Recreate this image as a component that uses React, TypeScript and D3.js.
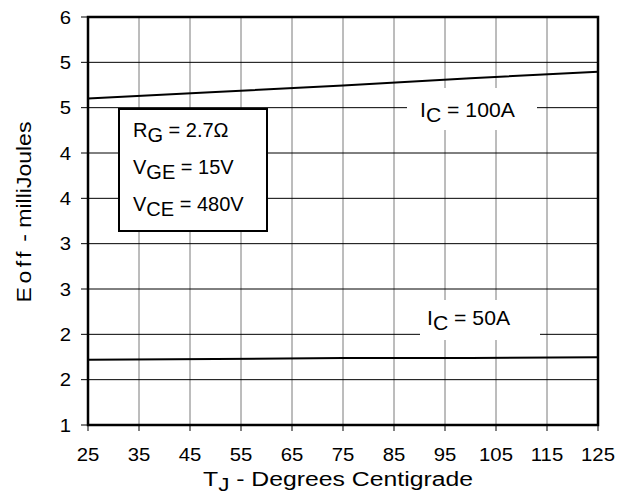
import * as d3 from 'd3';

const xTicks = [25, 35, 45, 55, 65, 75, 85, 95, 105, 115, 125];
const yTickLabels = ['1', '2', '2', '3', '3', '4', '4', '5', '5', '6'];
const yMin = 1;
const yMax = 6;

const temps = [25, 50, 75, 100, 125];
const eoff100A = [5.0, 5.08, 5.16, 5.25, 5.33];
const eoff50A = [1.8, 1.81, 1.82, 1.82, 1.83];

const font = '"Liberation Sans", Arial, sans-serif';

export default function App() {
  const width = 627;
  const height = 494;
  const margin = { top: 17, right: 29, bottom: 69, left: 88 };
  const x0 = margin.left;
  const x1 = width - margin.right;
  const y0 = height - margin.bottom;
  const y1 = margin.top;

  const x = d3.scaleLinear().domain([25, 125]).range([x0, x1]);
  const y = d3.scaleLinear().domain([yMin, yMax]).range([y0, y1]);
  const yTicks = yTickLabels.map((_, i) => yMin + (i * (yMax - yMin)) / (yTickLabels.length - 1));

  const line = d3.line<[number, number]>()
    .x(d => x(d[0]))
    .y(d => y(d[1]));

  const pts100 = temps.map((t, i) => [t, eoff100A[i]] as [number, number]);
  const pts50 = temps.map((t, i) => [t, eoff50A[i]] as [number, number]);

  return (
    <svg width={width} height={height} style={{ position: 'absolute', left: 0, top: 0, background: '#fff' }} fontFamily={font}>
      {/* grid */}
      {xTicks.map(t => (
        <line key={'vx' + t} x1={x(t)} x2={x(t)} y1={y1} y2={y0} stroke="#7a7a7a" strokeWidth={1} />
      ))}
      {yTicks.map((t, i) => (
        <line key={'hy' + i} x1={x0} x2={x1} y1={y(t)} y2={y(t)} stroke="#000" strokeWidth={1} />
      ))}

      {/* curve label backgrounds */}
      <rect x={407} y={88} width={130} height={42} fill="#fff" />
      <rect x={420} y={300} width={120} height={40} fill="#fff" />

      {/* curves */}
      <path d={line(pts100) ?? ''} fill="none" stroke="#000" strokeWidth={2} />
      <path d={line(pts50) ?? ''} fill="none" stroke="#000" strokeWidth={2} />

      {/* curve labels */}
      <text transform="translate(420,117) scale(1.06,1)" fontSize={20} fill="#000">
        I<tspan dy={5}>C</tspan><tspan dy={-5}> = 100A</tspan>
      </text>
      <text transform="translate(427,325) scale(1.06,1)" fontSize={20} fill="#000">
        I<tspan dy={5}>C</tspan><tspan dy={-5}> = 50A</tspan>
      </text>

      {/* conditions box */}
      <rect x={119} y={109} width={148} height={122} fill="#fff" stroke="#000" strokeWidth={2} />
      <text x={133} y={137} fontSize={20}>
        R<tspan dy={5}>G</tspan><tspan dy={-5}> = 2.7Ω</tspan>
      </text>
      <text x={133} y={174} fontSize={20}>
        V<tspan dy={5}>GE</tspan><tspan dy={-5}> = 15V</tspan>
      </text>
      <text x={133} y={211} fontSize={20}>
        V<tspan dy={5}>CE</tspan><tspan dy={-5}> = 480V</tspan>
      </text>

      {/* frame */}
      <rect x={x0} y={y1} width={x1 - x0} height={y0 - y1} fill="none" stroke="#000" strokeWidth={2.5} />

      {/* x ticks */}
      {xTicks.map(t => (
        <g key={'xt' + t}>
          <line x1={x(t)} x2={x(t)} y1={y0} y2={y0 + 6} stroke="#000" strokeWidth={1} />
          <text transform={`translate(${x(t)},461) scale(1.07,1)`} fontSize={19} textAnchor="middle">{t}</text>
        </g>
      ))}

      {/* y ticks */}
      {yTicks.map((t, i) => (
        <g key={'yt' + i}>
          <line x1={x0 - 7} x2={x0} y1={y(t)} y2={y(t)} stroke="#000" strokeWidth={1} />
          <text transform={`translate(71,${y(t) + 6.5}) scale(1.07,1)`} fontSize={19} textAnchor="end">{yTickLabels[i]}</text>
        </g>
      ))}

      {/* axis titles */}
      <text transform="translate(203,486) scale(1.18,1)" fontSize={21}>
        T<tspan dy={5} fontSize={19}>J</tspan><tspan dy={-5}> - Degrees Centigrade</tspan>
      </text>
      <text transform="translate(31,212) rotate(-90) scale(1.15,1)" fontSize={20} textAnchor="middle">
        <tspan letterSpacing={3}>Eoff</tspan> - milliJoules
      </text>
    </svg>
  );
}
